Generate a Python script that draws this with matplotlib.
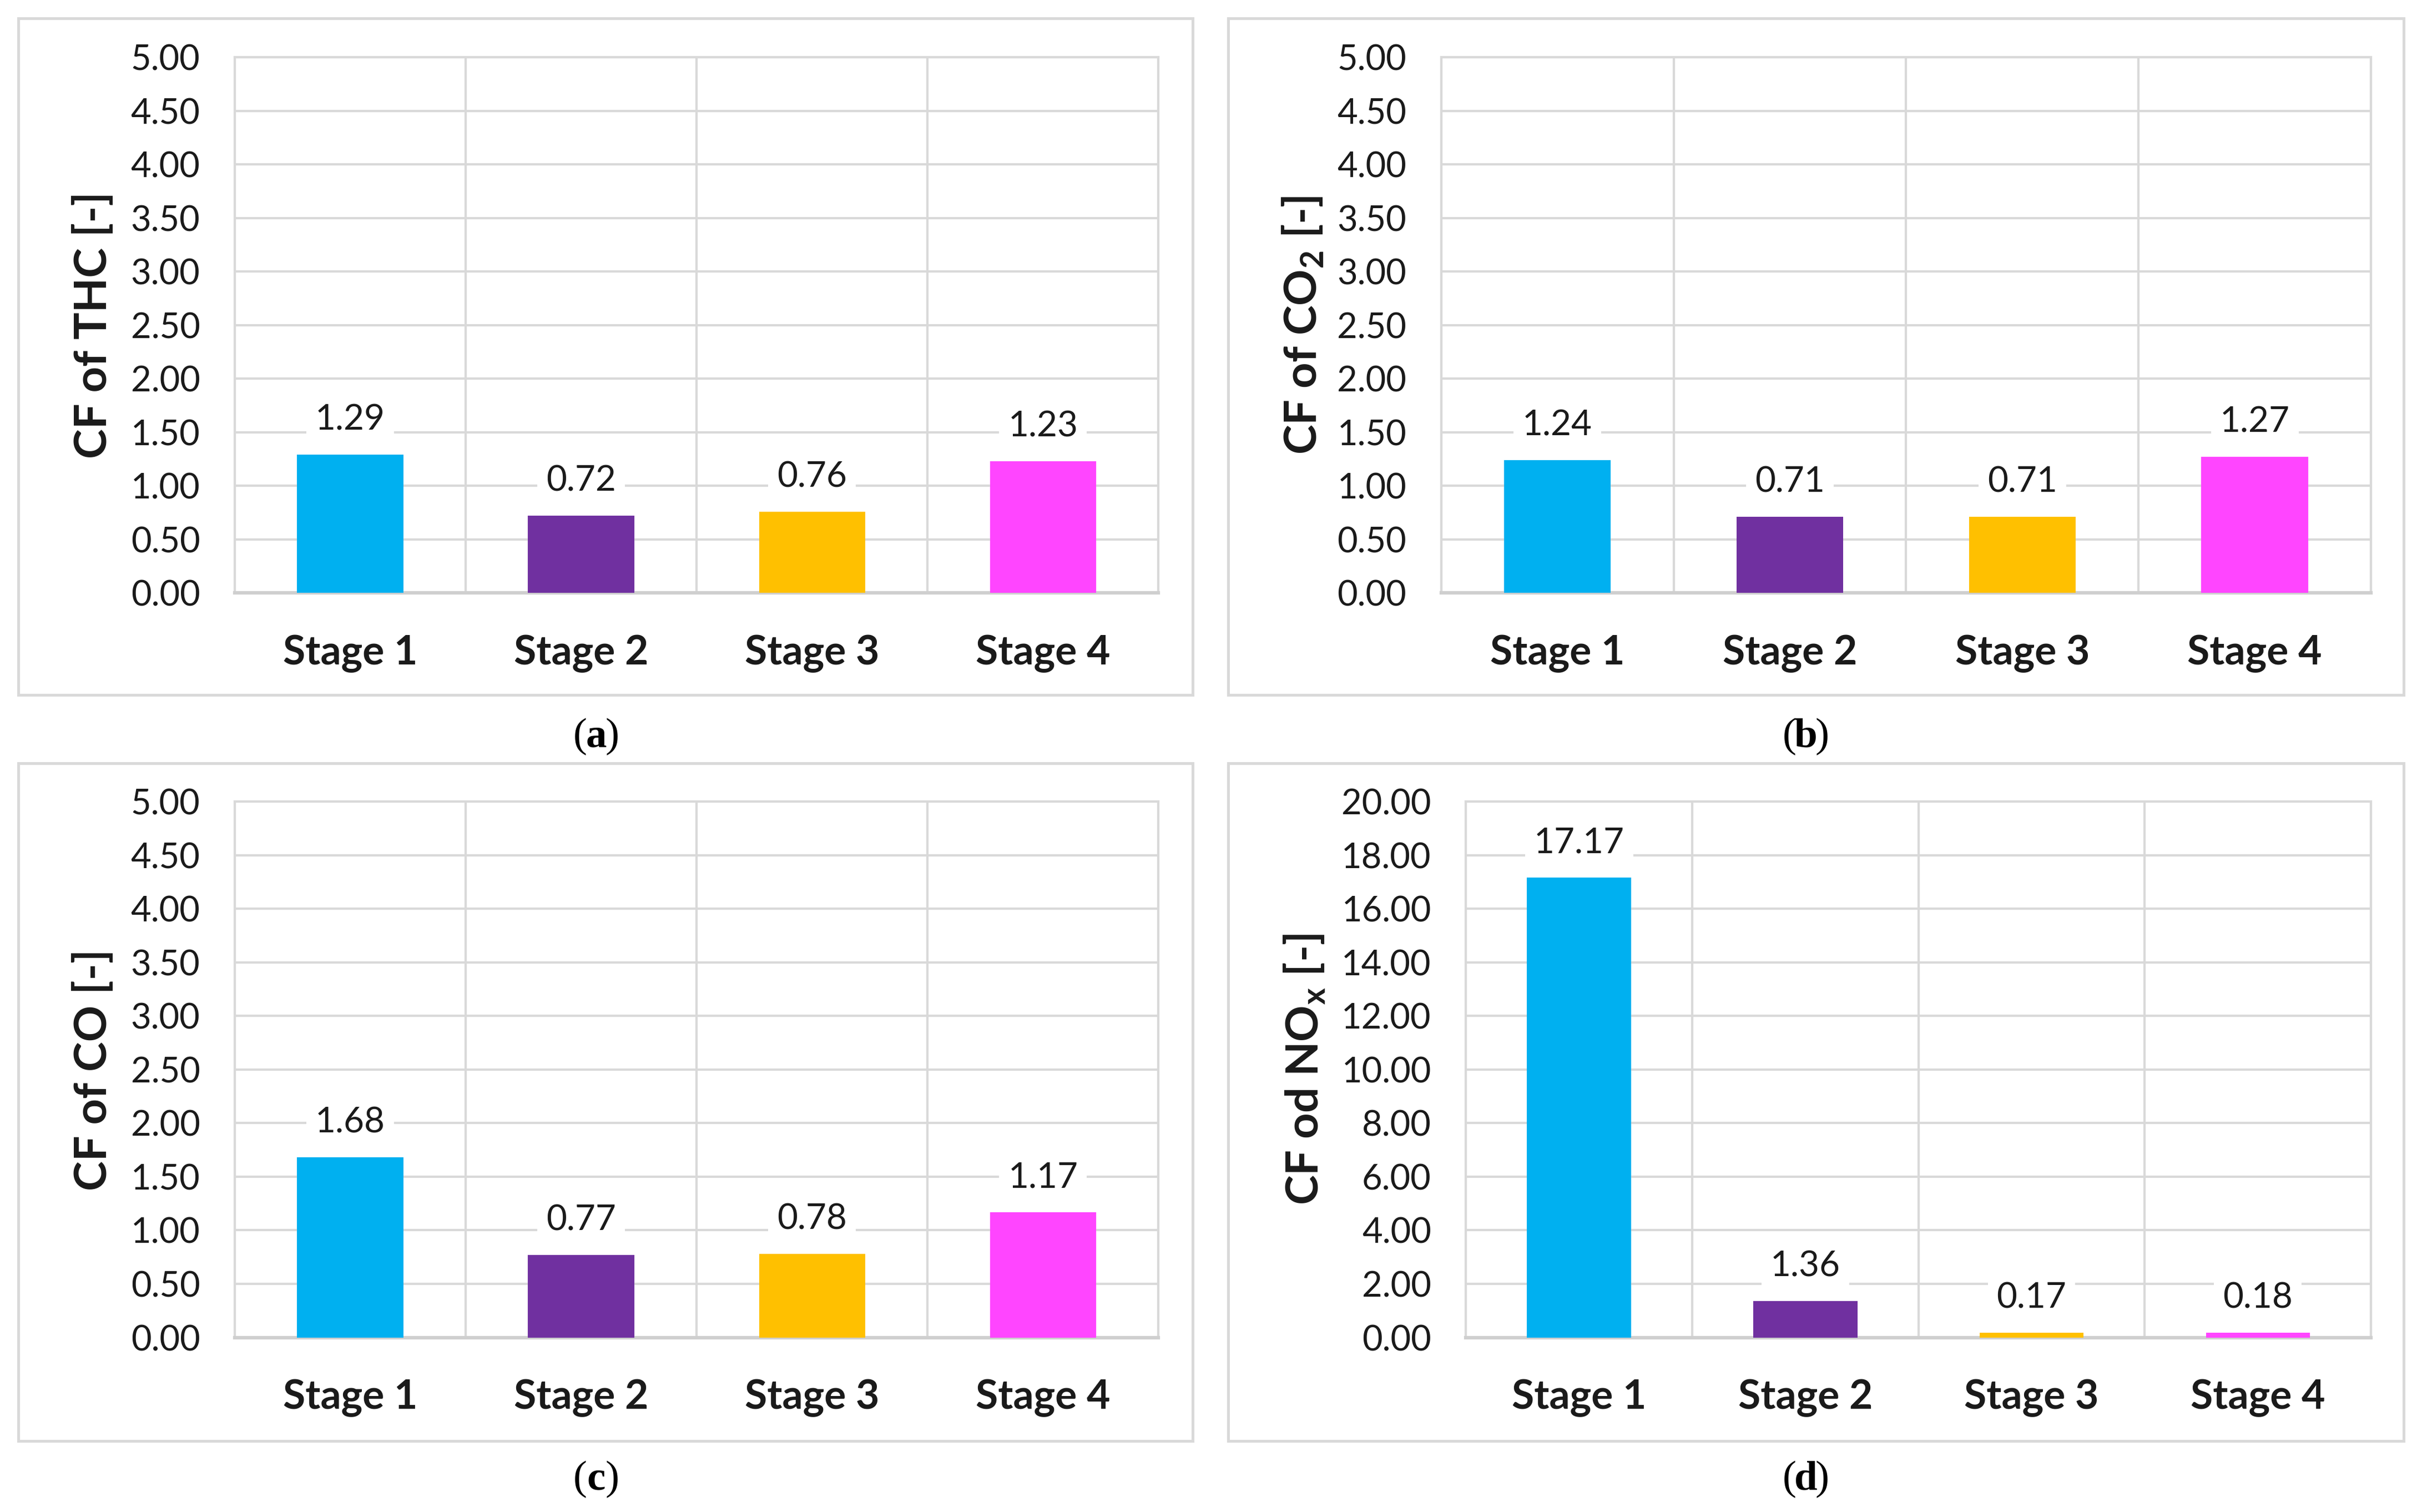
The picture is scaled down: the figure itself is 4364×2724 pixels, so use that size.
import matplotlib
matplotlib.use('Agg')
import matplotlib.pyplot as plt
from matplotlib.patches import Rectangle

plt.rcParams['font.family'] = ['Lato', 'DejaVu Sans']
plt.rcParams['mathtext.fontset'] = 'custom'
plt.rcParams['mathtext.rm'] = 'Lato'
plt.rcParams['mathtext.bf'] = 'Lato:bold'

stages = ['Stage 1', 'Stage 2', 'Stage 3', 'Stage 4']
colors = ['#00B0F0', '#7030A0', '#FFC000', '#FF45FF']

thc = [1.29, 0.72, 0.76, 1.23]
co2 = [1.24, 0.71, 0.71, 1.27]
co = [1.68, 0.77, 0.78, 1.17]
nox = [17.17, 1.36, 0.17, 0.18]

ylabels = ['CF of THC [-]', r'CF of CO$_\mathbf{2}$ [-]',
           'CF of CO [-]', r'CF od NO$_\mathbf{x}$ [-]']
captions = ['a', 'b', 'c', 'd']

W, H = 1568, 979
grid_c = '#d9d9d9'
txt_c = '#1a1a1a'

# panel layout in reference pixels: axes box, outer frame, caption pos, ylabel right edge
panels = [
    dict(data=thc, ymax=5, step=0.5, ax=(152, 37, 750, 384), frame=(12, 12, 772, 450), cap=(386, 477), ylx=74),
    dict(data=co2, ymax=5, step=0.5, ax=(933, 37, 1535, 384), frame=(795, 12, 1556, 450), cap=(1169, 477), ylx=858),
    dict(data=co, ymax=5, step=0.5, ax=(152, 519, 750, 866), frame=(12, 494, 772, 933), cap=(386, 958), ylx=74),
    dict(data=nox, ymax=20, step=2, ax=(949, 519, 1535, 866), frame=(795, 494, 1556, 933), cap=(1169, 958), ylx=859),
]

fig = plt.figure(figsize=(4364 / 300, 2724 / 300), dpi=300)

for i, p in enumerate(panels):
    x0, y0, x1, y1 = p['frame']
    fig.patches.append(Rectangle((x0 / W, 1 - y1 / H), (x1 - x0) / W, (y1 - y0) / H,
                                 transform=fig.transFigure, fill=False,
                                 edgecolor=grid_c, linewidth=1.2, zorder=0))
    l, t, r, b = p['ax']
    ax = fig.add_axes([l / W, 1 - b / H, (r - l) / W, (b - t) / H])
    xs = range(len(stages))
    ax.bar(xs, p['data'], width=0.46, color=colors, zorder=3)
    for x, v in zip(xs, p['data']):
        ax.annotate(f'{v:.2f}', (x, v), xytext=(0, 15), textcoords='offset points',
                    ha='center', va='center', fontsize=15.3, color=txt_c,
                    bbox=dict(boxstyle='square,pad=0.25', fc='white', ec='none'), zorder=4)
    ax.set_xlim(-0.5, len(stages) - 0.5)
    ax.set_ylim(0, p['ymax'])
    nt = int(round(p['ymax'] / p['step']))
    ax.set_yticks([k * p['step'] for k in range(nt + 1)])
    ax.set_yticklabels([f'{k * p["step"]:.2f}' for k in range(nt + 1)])
    ax.set_xticks(list(xs))
    ax.set_xticklabels(stages, fontweight='bold', fontsize=17.6, color=txt_c)
    ax.set_xticks([k + 0.5 for k in range(-1, len(stages))], minor=True)
    ax.tick_params(axis='y', length=0, pad=15, labelsize=15.2, labelcolor=txt_c)
    ax.tick_params(axis='x', which='both', length=0, pad=18)
    ax.grid(axis='y', color=grid_c, linewidth=1.0, zorder=0)
    ax.grid(axis='x', which='minor', color=grid_c, linewidth=1.0, zorder=0)
    for s in ax.spines.values():
        s.set_color(grid_c)
        s.set_linewidth(1.0)
    ax.spines['bottom'].set_color('#cfcfcf')
    ax.spines['bottom'].set_linewidth(1.5)
    ax.set_ylabel(ylabels[i], fontweight='bold', fontsize=19.5, color=txt_c)
    ax.yaxis.set_label_coords((p['ylx'] - l) / (r - l), 0.5)

    cx, cy = p['cap']
    fx, fy = cx / W, 1 - cy / H
    fig.text(fx, fy, captions[i], ha='center', va='center', fontsize=18,
             family='Liberation Serif', fontweight='bold')
    fig.text(fx - 6 / W, fy, '(', ha='right', va='center', fontsize=18, family='Liberation Serif')
    fig.text(fx + 6 / W, fy, ')', ha='left', va='center', fontsize=18, family='Liberation Serif')

fig.savefig('out.png', dpi=300, facecolor='white')
